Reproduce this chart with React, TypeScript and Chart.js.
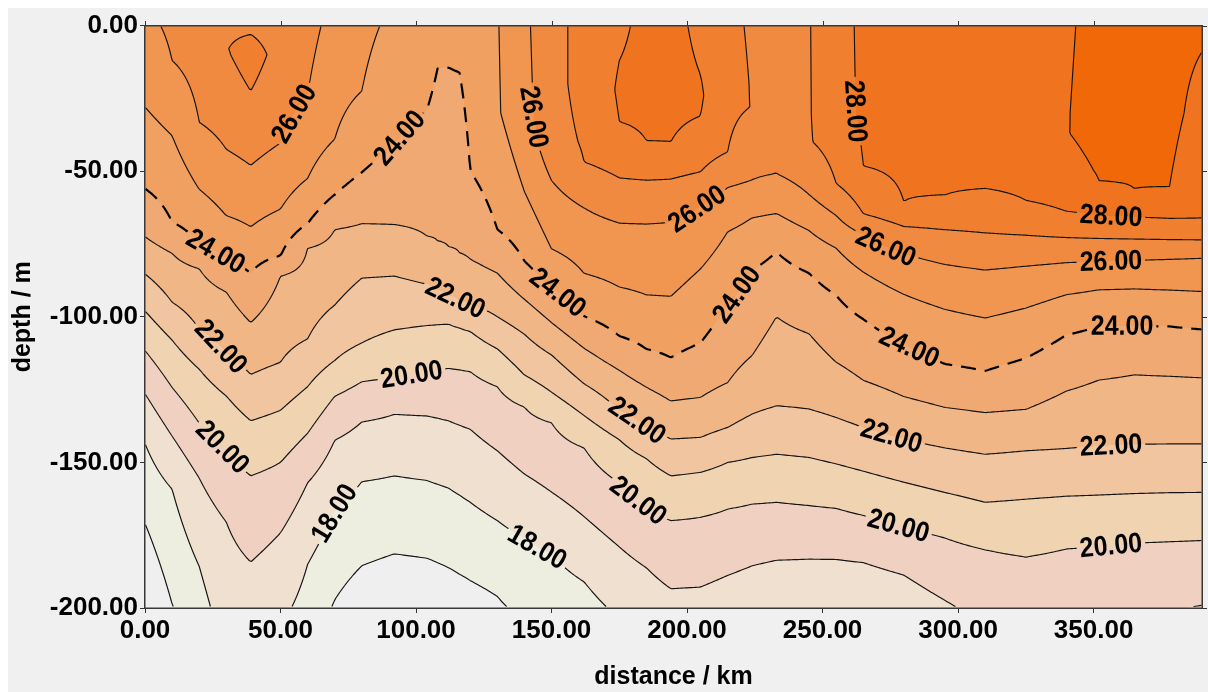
import React, { useEffect, useRef } from "react";
import { Chart, registerables } from "chart.js";

Chart.register(...registerables);

const FONT = '"Liberation Sans", Arial, Helvetica, sans-serif';

// axes
const distanceMax = 390;
const depthMin = -200;
const distanceTicks = [0, 50, 100, 150, 200, 250, 300, 350];
const depthTicks = [0, -50, -100, -150, -200];

// contour levels (°C) and band colours: <17, 17-18, ..., 28-29, >=29
const contourLevels = [17, 18, 19, 20, 21, 22, 23, 24, 25, 26, 27, 28, 29];
const dashedLevel = 24;
const bandColors = [
  "#efefef", "#eeeee0", "#f0e0d0", "#f0d0c0", "#f0d3b0", "#f0c5a0", "#f0b686",
  "#f0a972", "#f0a060", "#f09650", "#f08a40", "#f08030", "#f07420", "#f06808",
];

// station positions (km) and temperature profiles [depth m, temperature °C]
const stationKm = [0, 10, 20, 30, 39, 50, 60, 70, 80, 92, 104, 108, 112, 116, 120, 130, 140, 150, 162, 175, 185, 194, 205, 215, 224, 233, 245, 255, 265, 280, 295, 310, 325, 340, 352, 365, 378, 390];

const prof000 = [[0, 25.8], [-28, 25], [-56, 24], [-72.5, 23], [-85.3, 22], [-98, 21], [-111.6, 20], [-126.4, 19], [-143.5, 18], [-171, 17], [-200, 16.1]];
const prof010 = [[0, 26.15], [-12, 26], [-37.8, 25], [-67.5, 24], [-78.2, 23], [-95, 22], [-108, 21], [-124.3, 20], [-141, 19], [-159.2, 18], [-198.6, 17], [-200, 16.95]];
const prof020 = [[0, 26.5], [-33.2, 26], [-56.2, 25], [-75.1, 24], [-83.5, 23], [-104.3, 22], [-118, 21], [-136.5, 20], [-155.4, 19], [-185.7, 18], [-200, 17.7]];
const prof030 = [[0, 26.85], [-8, 26.97], [-42.5, 26], [-65.3, 25], [-80.2, 24], [-91.5, 23], [-112.3, 22], [-127.2, 21], [-145.9, 20], [-170.5, 19], [-200, 18.4]];
const prof039 = [[0, 26.95], [-3, 27.0], [-10, 27.4], [-22.5, 27], [-48, 26], [-69.1, 25], [-85, 24], [-102, 23], [-119.8, 22], [-135.7, 21], [-154.6, 20], [-184.2, 19], [-200, 18.6]];
const prof050 = [[0, 26.6], [-10, 26.67], [-40.3, 26], [-63, 25], [-79, 24], [-86, 23], [-115.6, 22], [-132.1, 21], [-150, 20], [-174.2, 19], [-200, 18.2]];
const prof060 = [[0, 26.3], [-23.6, 26], [-52.5, 25], [-68, 24], [-76.5, 23], [-107.6, 22], [-124, 21], [-140, 20], [-157, 19], [-185, 18], [-200, 17.7]];
const prof070 = [[0, 25.7], [-39, 25], [-58, 24], [-70, 23], [-96, 22], [-115, 21], [-127.3, 20], [-142.4, 19], [-167, 18], [-197.2, 17], [-200, 16.9]];
const prof080 = [[0, 25.25], [-22.5, 25], [-50.4, 24], [-68, 23], [-86.7, 22], [-109, 21], [-122.3, 20], [-136.1, 19], [-156.6, 18], [-185.5, 17], [-200, 16.4]];
const prof092 = [[0, 24.8], [-40.6, 24], [-68.3, 23], [-86, 22], [-104.5, 21], [-120.8, 20], [-133.5, 19], [-154.6, 18], [-181.4, 17], [-200, 16.3]];
const prof104 = [[0, 24.6], [-29, 24], [-72.3, 23], [-88.8, 22], [-103, 21], [-119, 20], [-134, 19], [-156.2, 18], [-182.9, 17], [-200, 16.3]];
const prof108 = [[0, 24.45], [-14.5, 24], [-74, 23], [-90.7, 22], [-102.7, 21], [-118.3, 20], [-134.8, 19], [-157.5, 18], [-184.5, 17], [-200, 16.35]];
const prof112 = [[0, 24.4], [-14.3, 24], [-76, 23], [-92.6, 22], [-102.5, 21], [-117.7, 20], [-135.7, 19], [-158.8, 18], [-186.2, 17], [-200, 16.4]];
const prof116 = [[0, 24.4], [-16, 24], [-78, 23], [-94.3, 22], [-103.8, 21], [-118.2, 20], [-137.2, 19], [-161.2, 18], [-188.4, 17], [-200, 16.5]];
const prof120 = [[0, 24.5], [-50, 24], [-80.2, 23], [-96, 22], [-105, 21], [-118.8, 20], [-138.6, 19], [-163.7, 18], [-190.6, 17], [-200, 16.6]];
const prof130 = [[0, 24.95], [-30, 24.9], [-70, 24], [-85, 23], [-100, 22], [-111, 21], [-124, 20], [-146, 19], [-170, 18], [-196, 17], [-200, 16.9]];
const prof140 = [[0, 25.8], [-30, 25.7], [-57, 25], [-80.9, 24], [-94, 23], [-106, 22], [-120, 21], [-131, 20], [-154, 19], [-176.1, 18], [-200, 17.15]];
const prof150 = [[0, 26.7], [-40, 26.6], [-53.2, 26], [-76.7, 25], [-90, 24], [-102, 23], [-113.1, 22], [-125.9, 21], [-136.4, 20], [-160.2, 19], [-181.5, 18], [-200, 17.4]];
const prof162 = [[0, 27.3], [-20, 27.35], [-46.8, 27], [-62.6, 26], [-85.1, 25], [-99.8, 24], [-110.8, 23], [-123, 22], [-133.9, 21], [-145, 20], [-168.6, 19], [-191, 18], [-200, 17.7]];
const prof175 = [[0, 27.75], [-12, 28], [-22, 28.1], [-33, 28], [-52.3, 27], [-67.8, 26], [-89.8, 25], [-106.6, 24], [-118.4, 23], [-132.1, 22], [-142.2, 21], [-157, 20], [-179, 19], [-200, 18.15]];
const prof185 = [[0, 28.35], [-20, 28.4], [-39.5, 28], [-53.1, 27], [-68.1, 26], [-92.5, 25], [-111.1, 24], [-124.2, 23], [-138, 22], [-148.7, 21], [-165, 20], [-186.2, 19], [-200, 18.5]];
const prof194 = [[0, 28.4], [-20, 28.45], [-40, 28], [-52.7, 27], [-67.5, 26], [-93, 25], [-114, 24], [-128.9, 23], [-142, 22], [-154.6, 21], [-170, 20], [-193.4, 19], [-200, 18.75]];
const prof205 = [[0, 27.7], [-17, 28], [-24, 28.1], [-31, 28], [-50.2, 27], [-62, 26], [-83.5, 25], [-108.9, 24], [-127.7, 23], [-141.4, 22], [-153.4, 21], [-168.8, 20], [-192.8, 19], [-200, 18.7]];
const prof215 = [[0, 27.2], [-20, 27.3], [-43.4, 27], [-55.6, 26], [-70.8, 25], [-96.4, 24], [-122.6, 23], [-138, 22], [-150, 21], [-166, 20], [-188.8, 19], [-200, 18.55]];
const prof224 = [[0, 26.9], [-28, 26.98], [-53, 26], [-66, 25], [-84, 24], [-113.3, 23], [-133.4, 22], [-148.3, 21], [-164.3, 20], [-185.5, 19], [-200, 18.4]];
const prof233 = [[0, 26.7], [-50.8, 26], [-64.5, 25], [-77.7, 24], [-100, 23], [-130.6, 22], [-147.2, 21], [-163.7, 20], [-183.6, 19], [-200, 18.2]];
const prof245 = [[0, 26.96], [-40, 26.94], [-58, 26], [-70.4, 25], [-85, 24], [-105.8, 23], [-131.7, 22], [-148.3, 21], [-164.8, 20], [-183.2, 19], [-200, 18.25]];
const prof255 = [[0, 27.6], [-30, 27.6], [-54.2, 27], [-65.2, 26], [-76.4, 25], [-92.6, 24], [-115.6, 23], [-134.6, 22], [-150.5, 21], [-165.8, 20], [-183.3, 19], [-200, 18.2]];
const prof265 = [[0, 28.2], [-30, 28.15], [-48.2, 28], [-64.6, 27], [-71.8, 26], [-84.6, 25], [-100.8, 24], [-121.8, 23], [-138, 22], [-153, 21], [-168.2, 20], [-184.4, 19], [-200, 18.15]];
const prof280 = [[0, 28.4], [-40, 28.3], [-60.5, 28], [-69, 27], [-78.3, 26], [-92.3, 25], [-109.5, 24], [-127.4, 23], [-142.1, 22], [-156.8, 21], [-172.2, 20], [-188.7, 19], [-200, 18.5]];
const prof295 = [[0, 28.55], [-40, 28.45], [-58.2, 28], [-70.1, 27], [-82, 26], [-97.4, 25], [-116.2, 24], [-131.1, 23], [-145, 22], [-160.3, 21], [-175.9, 20], [-197.3, 19], [-200, 18.9]];
const prof310 = [[0, 28.65], [-40, 28.55], [-55.9, 28], [-71.2, 27], [-83.9, 26], [-100.4, 25], [-118.6, 24], [-132.9, 23], [-147.2, 22], [-163.7, 21], [-180, 20], [-200, 19.2]];
const prof325 = [[0, 28.75], [-40, 28.65], [-60, 28], [-72, 27], [-82.6, 26], [-97, 25], [-114.2, 24], [-131.8, 23], [-146, 22], [-162.6, 21], [-182.5, 20], [-200, 19.3]];
const prof340 = [[0, 28.92], [-37, 28.98], [-50, 28.8], [-63.8, 28], [-72.8, 27], [-81.4, 26], [-92.4, 25], [-106.2, 24], [-125.5, 23], [-145.2, 22], [-161.6, 21], [-179.7, 20], [-200, 19.2]];
const prof352 = [[0, 29.2], [-30, 29.25], [-53.4, 29], [-65.1, 28], [-73.1, 27], [-81, 26], [-90.7, 25], [-103.1, 24], [-121.7, 23], [-144.4, 22], [-161.2, 21], [-178.9, 20], [-200, 19.15]];
const prof365 = [[0, 29.35], [-30, 29.4], [-56, 29], [-65.8, 28], [-73.3, 27], [-80.6, 26], [-90.4, 25], [-103.1, 24], [-119.9, 23], [-143.8, 22], [-160.7, 21], [-177.7, 20], [-200, 19.1]];
const prof378 = [[0, 29.3], [-30, 29.3], [-55.3, 29], [-66.2, 28], [-73.5, 27], [-80.2, 26], [-90.8, 25], [-103.3, 24], [-120.4, 23], [-143.7, 22], [-160.4, 21], [-177.2, 20], [-200, 19.02]];
const prof390 = [[0, 29.15], [-9, 29], [-66.2, 28], [-73.6, 27], [-79.9, 26], [-91.3, 25], [-104.3, 24], [-120.9, 23], [-143.7, 22], [-160.3, 21], [-176.8, 20], [-199, 19], [-200, 18.97]];

const profiles = [prof000, prof010, prof020, prof030, prof039, prof050, prof060, prof070, prof080, prof092, prof104, prof108, prof112, prof116, prof120, prof130, prof140, prof150, prof162, prof175, prof185, prof194, prof205, prof215, prof224, prof233, prof245, prof255, prof265, prof280, prof295, prof310, prof325, prof340, prof352, prof365, prof378, prof390];

// contour labels: level, approximate position (km, m)
const labelLevels = [26, 24, 24, 26, 28, 26, 28, 26, 26, 24, 24, 24, 24, 22, 22, 20, 22, 22, 22, 20, 18, 20, 18, 20, 20];
const labelKm = [59.7, 94, 25.8, 144.9, 260.6, 203.5, 356.4, 356.4, 273.5, 360.5, 282.7, 217.5, 153.7, 115, 27.6, 98.4, 181.3, 275.7, 356.4, 28.4, 70.8, 181.3, 144.5, 279, 356.4];
const labelDepth = [-32.9, -38.7, -78, -31.2, -29.5, -62.7, -66.1, -80.8, -75.7, -103.1, -108.9, -91.8, -90.1, -92.5, -110.6, -120.2, -136, -140, -143.8, -144.9, -168.2, -164, -179.5, -168.5, -178.8];

function evalProfile(p: number[][], d: number): number {
  if (d >= p[0][0]) return p[0][1];
  for (let k = 1; k < p.length; k++) {
    if (d >= p[k][0]) {
      const d0 = p[k - 1][0], t0 = p[k - 1][1], d1 = p[k][0], t1 = p[k][1];
      return t0 + ((t1 - t0) * (d - d0)) / (d1 - d0);
    }
  }
  return p[p.length - 1][1];
}

function traceContours(F: Float32Array, W: number, H: number, step: number, level: number) {
  const NX = Math.floor((W - 1) / step) + 1;
  const NY = Math.floor((H - 1) / step) + 1;
  const v = (i: number, j: number) => F[j * step * W + i * step];
  const pts = new Map<number, number[]>();
  const adj = new Map<number, number[]>();
  const hId = (i: number, j: number) => (j * NX + i) * 2;
  const vId = (i: number, j: number) => (j * NX + i) * 2 + 1;
  const pointFor = (id: number) => {
    if (pts.has(id)) return;
    const base = Math.floor(id / 2);
    const i = base % NX;
    const j = Math.floor(base / NX);
    if (id % 2 === 0) {
      const a = v(i, j), b = v(i + 1, j);
      const t = (level - a) / (b - a);
      pts.set(id, [(i + t) * step, j * step]);
    } else {
      const a = v(i, j), b = v(i, j + 1);
      const t = (level - a) / (b - a);
      pts.set(id, [i * step, (j + t) * step]);
    }
  };
  const addAdj = (a: number, b: number) => {
    let l = adj.get(a);
    if (!l) { l = []; adj.set(a, l); }
    l.push(b);
  };
  const link = (e1: number, e2: number) => {
    pointFor(e1); pointFor(e2);
    addAdj(e1, e2); addAdj(e2, e1);
  };
  for (let j = 0; j < NY - 1; j++) {
    for (let i = 0; i < NX - 1; i++) {
      const a = v(i, j), b = v(i + 1, j), c = v(i + 1, j + 1), d = v(i, j + 1);
      const code = (a >= level ? 8 : 0) | (b >= level ? 4 : 0) | (c >= level ? 2 : 0) | (d >= level ? 1 : 0);
      if (code === 0 || code === 15) continue;
      const T = hId(i, j), R = vId(i + 1, j), B = hId(i, j + 1), L = vId(i, j);
      const m = (a + b + c + d) / 4;
      switch (code) {
        case 1: case 14: link(L, B); break;
        case 2: case 13: link(B, R); break;
        case 3: case 12: link(L, R); break;
        case 4: case 11: link(T, R); break;
        case 6: case 9: link(T, B); break;
        case 7: case 8: link(L, T); break;
        case 5:
          if (m >= level) { link(L, T); link(B, R); } else { link(L, B); link(T, R); }
          break;
        case 10:
          if (m >= level) { link(T, R); link(L, B); } else { link(L, T); link(B, R); }
          break;
      }
    }
  }
  const visited = new Set<number>();
  const lines: number[][][] = [];
  const walk = (start: number) => {
    const line: number[][] = [];
    let prev = -1;
    let cur = start;
    while (cur !== -1) {
      visited.add(cur);
      line.push(pts.get(cur)!);
      const nb = adj.get(cur)!;
      let nxt = -1;
      for (const n of nb) if (!visited.has(n)) { nxt = n; break; }
      if (nxt === -1 && line.length > 2) {
        for (const n of nb) if (n === start && n !== prev) { line.push(pts.get(start)!); break; }
      }
      prev = cur;
      cur = nxt;
    }
    return line;
  };
  adj.forEach((nb, id) => { if (nb.length === 1 && !visited.has(id)) lines.push(walk(id)); });
  adj.forEach((_nb, id) => { if (!visited.has(id)) lines.push(walk(id)); });
  return lines;
}

const contourPlugin = {
  id: "contourSection",
  afterDraw(chart: any) {
    const { ctx, chartArea: area, scales } = chart;
    const xs = scales.x, ys = scales.y;
    const x0 = Math.round(area.left), y0 = Math.round(area.top);
    const W = Math.round(area.right) - x0, H = Math.round(area.bottom) - y0;

    // field on the pixel grid, through the chart scales
    const colT = profiles.map((p) => {
      const arr = new Float64Array(H);
      for (let j = 0; j < H; j++) arr[j] = evalProfile(p, ys.getValueForPixel(y0 + j + 0.5));
      return arr;
    });
    const F = new Float32Array(W * H);
    for (let i = 0; i < W; i++) {
      const km = xs.getValueForPixel(x0 + i + 0.5);
      let c = 0;
      while (c < stationKm.length - 2 && km > stationKm[c + 1]) c++;
      let w = (km - stationKm[c]) / (stationKm[c + 1] - stationKm[c]);
      w = Math.max(0, Math.min(1, w));
      const A = colT[c], B = colT[c + 1];
      for (let j = 0; j < H; j++) F[j * W + i] = A[j] * (1 - w) + B[j] * w;
    }

    // filled bands
    const rgb = bandColors.map((h) => [parseInt(h.slice(1, 3), 16), parseInt(h.slice(3, 5), 16), parseInt(h.slice(5, 7), 16)]);
    const off = document.createElement("canvas");
    off.width = W; off.height = H;
    const octx = off.getContext("2d")!;
    const img = octx.createImageData(W, H);
    for (let k = 0; k < W * H; k++) {
      const band = Math.max(0, Math.min(bandColors.length - 1, Math.floor(F[k]) - 16));
      const col = rgb[band];
      img.data[k * 4] = col[0]; img.data[k * 4 + 1] = col[1]; img.data[k * 4 + 2] = col[2]; img.data[k * 4 + 3] = 255;
    }
    octx.putImageData(img, 0, 0);
    ctx.save();
    ctx.drawImage(off, x0, y0);
    ctx.restore();

    // label placement (snap to contour, orient along it)
    const sample = (x: number, y: number) => {
      const fx = Math.max(0, Math.min(W - 1.001, x - 0.5));
      const fy = Math.max(0, Math.min(H - 1.001, y - 0.5));
      const i = Math.floor(fx), j = Math.floor(fy);
      const tx = fx - i, ty = fy - j;
      const a = F[j * W + i], b = F[j * W + i + 1], c = F[(j + 1) * W + i], d = F[(j + 1) * W + i + 1];
      return a * (1 - tx) * (1 - ty) + b * tx * (1 - ty) + c * (1 - tx) * ty + d * tx * ty;
    };
    const labelFont = `bold 25px ${FONT}`;
    ctx.font = labelFont;
    const labelItems = labelLevels.map((lev, n) => {
      let x = xs.getPixelForValue(labelKm[n]) - x0;
      let y = ys.getPixelForValue(labelDepth[n]) - y0;
      let gx = 0, gy = 0;
      for (let it = 0; it < 8; it++) {
        const h = 3;
        gx = (sample(x + h, y) - sample(x - h, y)) / (2 * h);
        gy = (sample(x, y + h) - sample(x, y - h)) / (2 * h);
        const g2 = gx * gx + gy * gy;
        if (g2 < 1e-9) break;
        const diff = sample(x, y) - lev;
        let sx = (diff * gx) / g2, sy = (diff * gy) / g2;
        const sl = Math.hypot(sx, sy);
        if (sl > 6) { sx *= 6 / sl; sy *= 6 / sl; }
        x -= sx; y -= sy;
      }
      let ang = Math.atan2(gy, gx) + Math.PI / 2;
      while (ang > (100 * Math.PI) / 180) ang -= Math.PI;
      while (ang <= (-80 * Math.PI) / 180) ang += Math.PI;
      const text = lev.toFixed(2);
      const tw = ctx.measureText(text).width;
      return { x: x + x0, y: y + y0, ang, text, hw: tw / 2 + 3, hh: 12 };
    });

    // contour lines, clipped around labels
    ctx.save();
    ctx.beginPath();
    ctx.rect(x0, y0, W, H);
    for (const L of labelItems) {
      const ux = Math.cos(L.ang), uy = Math.sin(L.ang), vx = -uy, vy = ux;
      ctx.moveTo(L.x - L.hw * ux - L.hh * vx, L.y - L.hw * uy - L.hh * vy);
      ctx.lineTo(L.x + L.hw * ux - L.hh * vx, L.y + L.hw * uy - L.hh * vy);
      ctx.lineTo(L.x + L.hw * ux + L.hh * vx, L.y + L.hw * uy + L.hh * vy);
      ctx.lineTo(L.x - L.hw * ux + L.hh * vx, L.y - L.hw * uy + L.hh * vy);
      ctx.closePath();
    }
    ctx.clip("evenodd");
    ctx.lineJoin = "round";
    for (const lev of contourLevels) {
      const lines = traceContours(F, W, H, 2, lev);
      const dashed = lev === dashedLevel;
      ctx.strokeStyle = dashed ? "#000" : "#141414";
      ctx.lineWidth = dashed ? 2.2 : 1.15;
      ctx.setLineDash(dashed ? [15, 9] : []);
      for (const line of lines) {
        if (line.length < 2) continue;
        ctx.beginPath();
        ctx.moveTo(x0 + line[0][0] + 0.5, y0 + line[0][1] + 0.5);
        for (let k = 1; k < line.length; k++) ctx.lineTo(x0 + line[k][0] + 0.5, y0 + line[k][1] + 0.5);
        ctx.stroke();
      }
    }
    ctx.restore();

    // label text
    ctx.save();
    ctx.fillStyle = "#000";
    ctx.textAlign = "center";
    ctx.textBaseline = "middle";
    ctx.font = labelFont;
    for (const L of labelItems) {
      ctx.save();
      ctx.translate(L.x, L.y);
      ctx.rotate(L.ang);
      ctx.scale(1, 1.12);
      ctx.fillText(L.text, 0, 1);
      ctx.restore();
    }
    ctx.restore();

    // frame and mirrored tick marks
    ctx.save();
    ctx.strokeStyle = "#383838";
    ctx.lineWidth = 1.5;
    ctx.strokeRect(x0 - 0.25, y0 - 0.25, W + 0.5, H + 0.5);
    ctx.lineWidth = 1;
    ctx.strokeStyle = "#333";
    ctx.beginPath();
    for (const v of distanceTicks) {
      const px = Math.round(xs.getPixelForValue(v)) + 0.5;
      ctx.moveTo(px, y0); ctx.lineTo(px, y0 - 5);
    }
    for (const v of depthTicks) {
      const py = Math.round(ys.getPixelForValue(v)) + 0.5;
      ctx.moveTo(x0 + W, py); ctx.lineTo(x0 + W + 5, py);
    }
    ctx.stroke();
    ctx.restore();
  },
};

export default function App() {
  const ref = useRef<HTMLCanvasElement>(null);
  useEffect(() => {
    const canvas = ref.current!;
    const tickFont = { family: FONT, size: 26, weight: "bold" as const };
    const titleFont = { family: FONT, size: 25, weight: "bold" as const };
    const chart = new Chart(canvas, {
      type: "scatter",
      data: { datasets: [{ data: [] }] },
      options: {
        animation: false,
        responsive: false,
        devicePixelRatio: 1,
        events: [],
        layout: { padding: { top: 16, right: 6, left: 0, bottom: 0 } },
        plugins: { legend: { display: false }, tooltip: { enabled: false } },
        scales: {
          x: {
            type: "linear",
            position: "bottom",
            min: 0,
            max: distanceMax,
            afterBuildTicks: (s: any) => { s.ticks = distanceTicks.map((v) => ({ value: v })); },
            afterFit: (s: any) => { s.height = 84; },
            grid: { display: true, drawOnChartArea: false, drawTicks: true, tickLength: 5, tickColor: "#333" },
            border: { display: false },
            ticks: { autoSkip: false, maxRotation: 0, padding: 2, color: "#000", font: tickFont, callback: (v: any) => Number(v).toFixed(2) },
            title: { display: true, text: "distance / km", color: "#000", font: titleFont, padding: { top: 0, bottom: 0 } },
          },
          y: {
            type: "linear",
            position: "left",
            min: depthMin,
            max: 0,
            afterBuildTicks: (s: any) => { s.ticks = depthTicks.map((v) => ({ value: v })); },
            afterFit: (s: any) => { s.width = 137; },
            grid: { display: true, drawOnChartArea: false, drawTicks: true, tickLength: 5, tickColor: "#333" },
            border: { display: false },
            ticks: { autoSkip: false, padding: 2, color: "#000", font: tickFont, callback: (v: any) => Number(v).toFixed(2) },
            title: { display: true, text: "depth / m", color: "#000", font: titleFont, padding: { top: 0, bottom: 0 } },
          },
        },
      },
      plugins: [contourPlugin],
    } as any);
    return () => chart.destroy();
  }, []);
  return (
    <div style={{ position: "fixed", left: 8, top: 8, width: 1200, height: 684, background: "#f0f0f0" }}>
      <canvas ref={ref} width={1200} height={684} style={{ display: "block", width: 1200, height: 684 }} />
    </div>
  );
}
